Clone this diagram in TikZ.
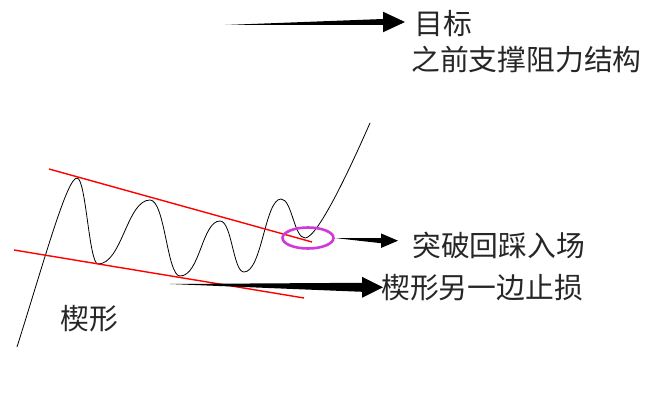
\documentclass[tikz,border=0pt]{standalone}
\usepackage{fontspec}
\newfontfamily\cjk{Noto Sans CJK SC}
\usetikzlibrary{calc,shapes.geometric}
\definecolor{ringcol}{RGB}{208,58,218}
\newcommand\taperarrow[5]{%
  \fill[black] (#1) -- ($(#2)+(-#5,#3)$) -- ($(#2)+(-#5,#4)$) -- (#2)
    -- ($(#2)+(-#5,-#4)$) -- ($(#2)+(-#5,-#3)$) -- cycle;}
\begin{document}
\begin{tikzpicture}[x=1pt,y=1pt,
  lbl/.style={anchor=west,inner sep=0pt,font=\cjk\fontsize{28.8}{32}\selectfont,text=black!85},
  price/.style={draw=black,line width=0.8pt},
  trend/.style={draw=red,line width=1.4pt},
  ring/.style={draw=ringcol,line width=2.6pt}]
\useasboundingbox (0,0) rectangle (654,413);
\fill[white] (0,0) rectangle (654,413);
% price path
\draw[price] (17,66) .. controls (45,155) and (67,235) .. (77,235)
  .. controls (86,235) and (89,149) .. (98,149)
  .. controls (122,149) and (127,213) .. (150,213)
  .. controls (165,213) and (167,137) .. (180,137)
  .. controls (200,137) and (202,192) .. (220,192)
  .. controls (232,192) and (233,141) .. (244,141)
  .. controls (262,141) and (265,214) .. (281,214)
  .. controls (292,214) and (294,175) .. (305,175)
  .. controls (318,175) and (352,249) .. (370,290);
% wedge lines
\coordinate (u1) at (49,244); \coordinate (u2) at (312,171);
\coordinate (l1) at (14,163); \coordinate (l2) at (304,115);
\draw[trend] (u1) -- (u2);
\draw[trend] (l1) -- (l2);
% entry ring
\node[ring,ellipse,minimum width=51pt,minimum height=21pt,inner sep=0pt] (entry) at (308,175) {};
% labels
\node[lbl] (target) at (414,389) {目标};
\node[lbl] (prior) at (411,353) {之前支撑阻力结构};
\node[lbl] (breakout) at (412,168) {突破回踩入场};
\node[lbl] (stop) at (381,125) {楔形另一边止损};
\node[lbl] (wedge) at (60,94) {楔形};
% arrows
\coordinate (a1s) at (225,388); \coordinate (a1e) at (405,391);
\coordinate (a2e) at (398,172.3);
\coordinate (a3s) at (170,129); \coordinate (a3e) at (383,125.7);
\taperarrow{a1s}{a1e}{3}{10.3}{22}
\taperarrow{entry.east}{a2e}{2.5}{7.3}{17}
\taperarrow{a3s}{a3e}{4.5}{10.5}{21}
\end{tikzpicture}
\end{document}
